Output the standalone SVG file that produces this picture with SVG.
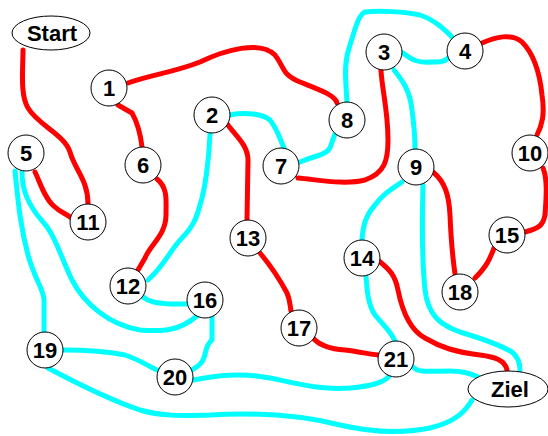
<svg xmlns="http://www.w3.org/2000/svg" width="548" height="436" viewBox="0 0 548 436">
<style>
.r{fill:none;stroke:#ff0000;stroke-width:5;stroke-linecap:round;stroke-linejoin:round}
.c{fill:none;stroke:#00ffff;stroke-width:5;stroke-linecap:round;stroke-linejoin:round}
.n circle,.n ellipse{fill:#fff;stroke:#000;stroke-width:1}
.n text{font-family:"Liberation Sans",Arial,sans-serif;font-weight:bold;font-size:22px;text-anchor:middle;fill:#000}
</style>
<rect width="548" height="436" fill="#fff"/>
<g id="connectors">
<path class="r" d="M23,50 C23,70 20,95 28,108 C38,125 65,135 70,152 C75,170 88,180 88,204"/>
<path class="r" d="M128,83 C150,75 175,72 200,62 C225,50 260,40 275,55 C285,68 282,75 300,82 C320,90 335,95 337,103"/>
<path class="r" d="M118,105 L132,113 C136,120 140,130 142,147"/>
<path class="r" d="M35,172 C40,182 45,200 55,207 C60,212 65,213 70,217"/>
<path class="r" d="M157,179 C168,188 166,200 166,215 C166,235 150,245 145,258 L138,270"/>
<path class="r" d="M228,125 C235,135 248,145 248,160 L247,220"/>
<path class="r" d="M260,253 C270,265 280,280 287,293 C290,300 290,305 291,311"/>
<path class="r" d="M313,338 C320,346 330,349 345,350 C360,352 370,354 378,355"/>
<path class="r" d="M298,178 C320,180 345,185 365,180 C385,173 388,160 388,140 C388,110 382,90 381,70"/>
<path class="r" d="M482,43 C495,37 512,33 522,42 C535,55 540,75 542,95 C545,115 542,125 537,135"/>
<path class="r" d="M543,168 C548,180 546,200 545,215 C543,225 540,228 525,232"/>
<path class="r" d="M494,248 C490,258 488,265 475,278"/>
<path class="r" d="M433,172 C445,182 449,195 450,215 C451,240 453,260 455,274"/>
<path class="r" d="M379,261 C390,270 395,275 398,290 C402,310 410,330 425,338 C440,347 455,352 480,355 C495,357 505,360 507,370"/>
<path class="c" d="M403,53 C412,60 418,63 430,62 C440,62 445,62 448,58"/>
<path class="c" d="M347,103 C346,80 343,65 350,45 C355,30 358,15 365,12 C380,10 405,12 420,15 C435,20 445,30 452,37"/>
<path class="c" d="M394,70 C402,80 410,90 412,110 C414,125 415,140 415,149"/>
<path class="c" d="M230,115 C240,113 260,112 270,120 C278,130 280,140 285,150"/>
<path class="c" d="M335,134 C330,145 333,150 320,155 C310,158 305,160 300,162"/>
<path class="c" d="M210,134 C209,160 205,190 200,205 C196,220 192,228 182,238 C170,250 165,265 148,280"/>
<path class="c" d="M143,297 C150,303 160,303 170,304 L187,304"/>
<path class="c" d="M15,171 C18,200 20,225 28,255 C35,280 44,290 44,300 L44,332"/>
<path class="c" d="M22,172 C22,190 28,205 43,222 C55,235 60,255 72,280 C85,305 110,325 140,330 C165,332 180,330 197,316"/>
<path class="c" d="M212,317 L212,340 C205,345 206,355 203,360 C200,366 196,367 192,370"/>
<path class="c" d="M63,350 C80,350 100,350 125,355 C140,360 150,367 157,370"/>
<path class="c" d="M48,368 C80,385 110,400 140,410 C160,416 180,416 210,415 C260,412 300,415 340,425 C370,432 400,434 430,428 C455,422 465,412 472,400"/>
<path class="c" d="M193,380 C215,376 240,372 270,378 C300,384 320,390 350,388 C370,386 385,383 390,375"/>
<path class="c" d="M413,367 C418,373 430,371 450,371 C465,371 472,374 478,377"/>
<path class="c" d="M402,182 C390,190 382,195 375,205 C366,215 363,225 362,240"/>
<path class="c" d="M423,185 C422,220 422,260 425,290 C428,315 440,325 460,332 C480,338 500,345 512,352 C518,357 520,362 520,370"/>
<path class="c" d="M366,276 C367,290 368,305 375,315 C383,325 390,330 395,341"/>
</g>
<g id="start" class="n"><ellipse cx="51" cy="33" rx="39" ry="17"/><text x="52" y="41">Start</text></g>
<g id="ziel" class="n"><ellipse cx="508" cy="389" rx="40" ry="18"/><text x="510" y="397">Ziel</text></g>
<g id="n1" class="n"><circle cx="109" cy="88" r="18"/><text x="109" y="96">1</text></g>
<g id="n2" class="n"><circle cx="212" cy="115" r="18"/><text x="212" y="123">2</text></g>
<g id="n3" class="n"><circle cx="384" cy="52" r="18"/><text x="384" y="60">3</text></g>
<g id="n4" class="n"><circle cx="465" cy="51" r="18"/><text x="465" y="59">4</text></g>
<g id="n5" class="n"><circle cx="26" cy="153" r="18"/><text x="26" y="161">5</text></g>
<g id="n6" class="n"><circle cx="143" cy="165" r="18"/><text x="143" y="173">6</text></g>
<g id="n7" class="n"><circle cx="281" cy="166" r="18"/><text x="281" y="174">7</text></g>
<g id="n8" class="n"><circle cx="347" cy="120" r="18"/><text x="347" y="128">8</text></g>
<g id="n9" class="n"><circle cx="416" cy="167" r="18"/><text x="416" y="175">9</text></g>
<g id="n10" class="n"><circle cx="530" cy="153" r="18"/><text x="530" y="161">10</text></g>
<g id="n11" class="n"><circle cx="88" cy="222" r="18"/><text x="88" y="230">11</text></g>
<g id="n12" class="n"><circle cx="128" cy="286" r="18"/><text x="128" y="294">12</text></g>
<g id="n13" class="n"><circle cx="248" cy="238" r="18"/><text x="248" y="246">13</text></g>
<g id="n14" class="n"><circle cx="362" cy="258" r="18"/><text x="362" y="266">14</text></g>
<g id="n15" class="n"><circle cx="507" cy="235" r="18"/><text x="507" y="243">15</text></g>
<g id="n16" class="n"><circle cx="205" cy="300" r="18"/><text x="205" y="308">16</text></g>
<g id="n17" class="n"><circle cx="299" cy="328" r="18"/><text x="299" y="336">17</text></g>
<g id="n18" class="n"><circle cx="460" cy="292" r="18"/><text x="460" y="300">18</text></g>
<g id="n19" class="n"><circle cx="45" cy="350" r="18"/><text x="45" y="358">19</text></g>
<g id="n20" class="n"><circle cx="175" cy="377" r="18"/><text x="175" y="385">20</text></g>
<g id="n21" class="n"><circle cx="396" cy="359" r="18"/><text x="396" y="367">21</text></g>
</svg>
